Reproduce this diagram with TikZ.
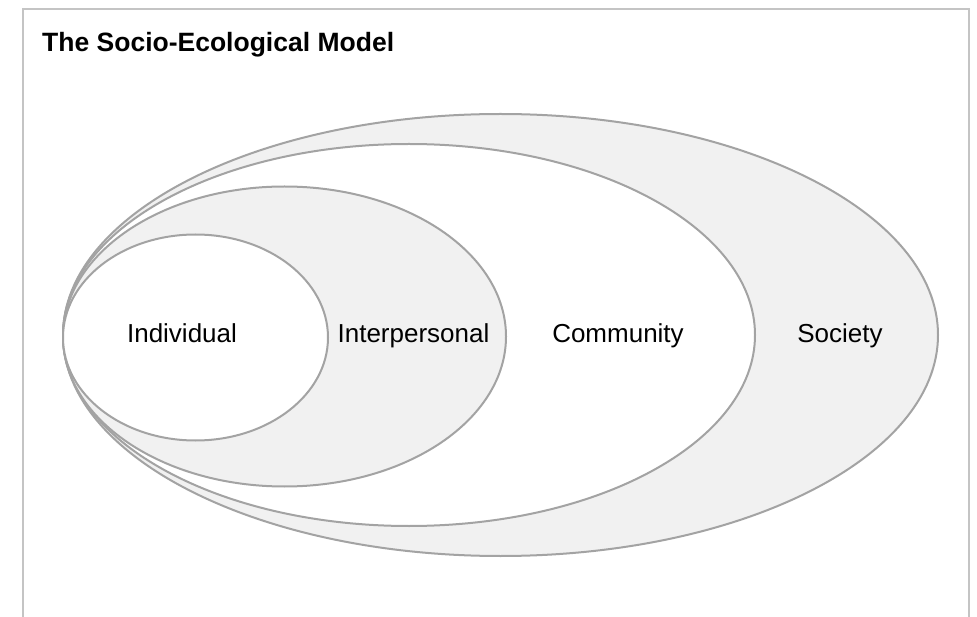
\documentclass[tikz,border=0pt]{standalone}
\usepackage{fontspec}
\setmainfont{Liberation Sans}
\usetikzlibrary{shapes.geometric}
\definecolor{framegray}{HTML}{C4C4C4}
\definecolor{ringline}{HTML}{A3A3A3}
\definecolor{ringfill}{HTML}{F1F1F1}
\tikzset{
  ring/.style={ellipse, draw=ringline, line width=2pt, inner sep=0pt, outer sep=0pt},
  grayring/.style={ring, fill=ringfill},
  whitering/.style={ring, fill=white},
  lbl/.style={anchor=base, inner sep=0pt, font=\fontsize{26}{30}\selectfont, text=black},
}
\begin{document}
\begin{tikzpicture}[x=1pt,y=-1pt]
\useasboundingbox (0,0) rectangle (977,617);
\fill[white] (0,0) rectangle (977,617);
\coordinate (fbl) at (23,620);
\coordinate (ftl) at (23,9);
\coordinate (ftr) at (969,9);
\coordinate (fbr) at (969,620);
\draw[framegray, line width=2pt] (fbl) -- (ftl) -- (ftr) -- (fbr);
\node[anchor=base west, inner sep=0pt, font=\bfseries\fontsize{26.5}{30}\selectfont] (title) at (42,52) {The Socio-Ecological Model};
\node[grayring, minimum width=875pt, minimum height=442pt] (society) at (500.5,335) {};
\node[whitering, minimum width=692pt, minimum height=382pt] (community) at (409,335) {};
\node[grayring, minimum width=443pt, minimum height=300pt] (interpersonal) at (284.5,336.5) {};
\node[whitering, minimum width=265pt, minimum height=206pt] (individual) at (195.5,337.5) {};
\node[lbl] (lind) at (182,343) {Individual};
\node[lbl] (lint) at (413.5,343) {Interpersonal};
\node[lbl] (lcom) at (618,343) {Community};
\node[lbl] (lsoc) at (840,343) {Society};
\end{tikzpicture}
\end{document}
